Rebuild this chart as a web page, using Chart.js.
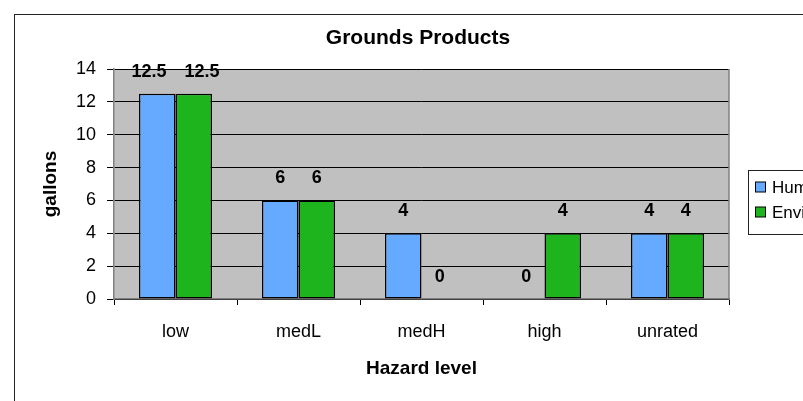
<!DOCTYPE html>
<html>
<head>
<meta charset="utf-8">
<script src="https://cdn.jsdelivr.net/npm/chart.js@4/dist/chart.umd.min.js"></script>
<style>
  html, body { margin: 0; padding: 0; background: #fff; }
  #wrap { width: 803px; height: 401px; }
</style>
</head>
<body>
<div id="wrap"><canvas id="groundschart" width="803" height="401"></canvas></div>
<script>
// Grounds Products chart, gallons per hazard level

var categories = ["low", "medL", "medH", "high", "unrated"];
var human = [12.5, 6, 4, 0, 4];
var environment = [12.5, 6, 0, 4, 4];
var y_ticks = [0, 2, 4, 6, 8, 10, 12, 14];
var chart_title = "Grounds Products";

var FONT = "'Liberation Sans', Arial, sans-serif";

// grey plot background, outer frame, title, right border of plot
var frame_plugin = {
    id: "frame",
    beforeDraw: function (chart) {
        var ctx = chart.ctx;
        var a = chart.chartArea;
        ctx.save();
        ctx.fillStyle = "#fff";
        ctx.fillRect(0, 0, chart.width, chart.height);
        ctx.fillStyle = "#C0C0C0";
        ctx.fillRect(a.left, a.top, a.right - a.left, a.bottom - a.top);
        ctx.strokeStyle = "#222";
        ctx.lineWidth = 1;
        ctx.strokeRect(14.5, 14.5, 900, 500);
        // title is centred on the whole original chart, not on the plot
        ctx.fillStyle = "#000";
        ctx.font = "bold 21px " + FONT;
        ctx.textAlign = "center";
        ctx.textBaseline = "middle";
        ctx.fillText(chart_title, 418, 38);
        ctx.restore();
    },
    afterDatasetsDraw: function (chart) {
        var ctx = chart.ctx;
        var a = chart.chartArea;
        ctx.save();
        ctx.strokeStyle = "#808080";
        ctx.lineWidth = 1.5;
        ctx.beginPath();
        ctx.moveTo(a.right, a.top);
        ctx.lineTo(a.right, a.bottom);
        ctx.stroke();
        ctx.restore();
    }
};

// value labels above every bar, pushed apart when they would crowd
var value_plugin = {
    id: "values",
    afterDraw: function (chart) {
        var ctx = chart.ctx;
        ctx.save();
        ctx.font = "bold 18px " + FONT;
        ctx.fillStyle = "#000";
        ctx.textAlign = "center";
        ctx.textBaseline = "middle";
        chart.data.datasets.forEach(function (ds, i) {
            chart.getDatasetMeta(i).data.forEach(function (bar, j) {
                var txt = String(ds.data[j]);
                var w = ctx.measureText(txt).width;
                var shift = Math.max(0, (w + 18 - bar.width) / 2);
                if (i === 0) shift = -shift;
                ctx.fillText(txt, bar.x + shift, bar.y - 22);
            });
        });
        ctx.restore();
    }
};

// legend box at the right, cut by the window edge like the reference
var legend_plugin = {
    id: "sidelegend",
    afterDraw: function (chart) {
        var ctx = chart.ctx;
        ctx.save();
        ctx.fillStyle = "#fff";
        ctx.strokeStyle = "#222";
        ctx.lineWidth = 1;
        ctx.fillRect(748.5, 170.5, 120, 64);
        ctx.strokeRect(748.5, 170.5, 120, 64);
        ctx.font = "17px " + FONT;
        ctx.textBaseline = "middle";
        chart.data.datasets.forEach(function (ds, i) {
            var y = 187 + i * 25;
            ctx.fillStyle = ds.backgroundColor;
            ctx.fillRect(755.5, y - 5, 10, 10);
            ctx.strokeStyle = "#000";
            ctx.strokeRect(755.5, y - 5, 10, 10);
            ctx.fillStyle = "#000";
            ctx.fillText(ds.label, 772, y + 1);
        });
        ctx.restore();
    }
};

function bar_border(c) {
    return c.raw === 0 ? 0 : 1.5;
}

function main() {
    new Chart(document.getElementById("groundschart"), {
        type: "bar",
        data: {
            labels: categories,
            datasets: [
                {
                    label: "Human",
                    data: human,
                    backgroundColor: "#66AAFF",
                    borderColor: "#000",
                    borderWidth: bar_border,
                    borderSkipped: false,
                    categoryPercentage: 0.594,
                    barPercentage: 1.0
                },
                {
                    label: "Environment",
                    data: environment,
                    backgroundColor: "#1EB41E",
                    borderColor: "#000",
                    borderWidth: bar_border,
                    borderSkipped: false,
                    categoryPercentage: 0.594,
                    barPercentage: 1.0
                }
            ]
        },
        options: {
            responsive: false,
            animation: false,
            layout: { padding: { left: 30, right: 74, top: 69, bottom: 0 } },
            plugins: {
                legend: { display: false },
                tooltip: { enabled: false },
                title: { display: false }
            },
            scales: {
                x: {
                    afterFit: function (s) { s.height = 102; },
                    grid: {
                        drawOnChartArea: false,
                        drawTicks: true,
                        tickLength: 6,
                        color: "#000"
                    },
                    border: { color: "#808080", width: 1.5 },
                    ticks: {
                        color: "#000",
                        padding: 16,
                        font: { family: FONT, size: 18 }
                    },
                    title: {
                        display: true,
                        text: "Hazard level",
                        color: "#000",
                        font: { family: FONT, size: 19, weight: "bold" },
                        padding: { top: 0, bottom: 21 }
                    }
                },
                y: {
                    min: 0,
                    max: 14,
                    afterFit: function (s) { s.width = 84; },
                    afterBuildTicks: function (s) {
                        s.ticks = y_ticks.map(function (v) { return { value: v }; });
                    },
                    grid: {
                        color: "#000",
                        lineWidth: 1,
                        drawTicks: true,
                        tickLength: 7
                    },
                    border: { color: "#808080", width: 1.5 },
                    ticks: {
                        color: "#000",
                        padding: 11,
                        font: { family: FONT, size: 18 }
                    },
                    title: {
                        display: true,
                        text: "gallons",
                        color: "#000",
                        font: { family: FONT, size: 19, weight: "bold" },
                        padding: { top: 9, bottom: 0 }
                    }
                }
            }
        },
        plugins: [frame_plugin, value_plugin, legend_plugin]
    });
}

main();
</script>
</body>
</html>
